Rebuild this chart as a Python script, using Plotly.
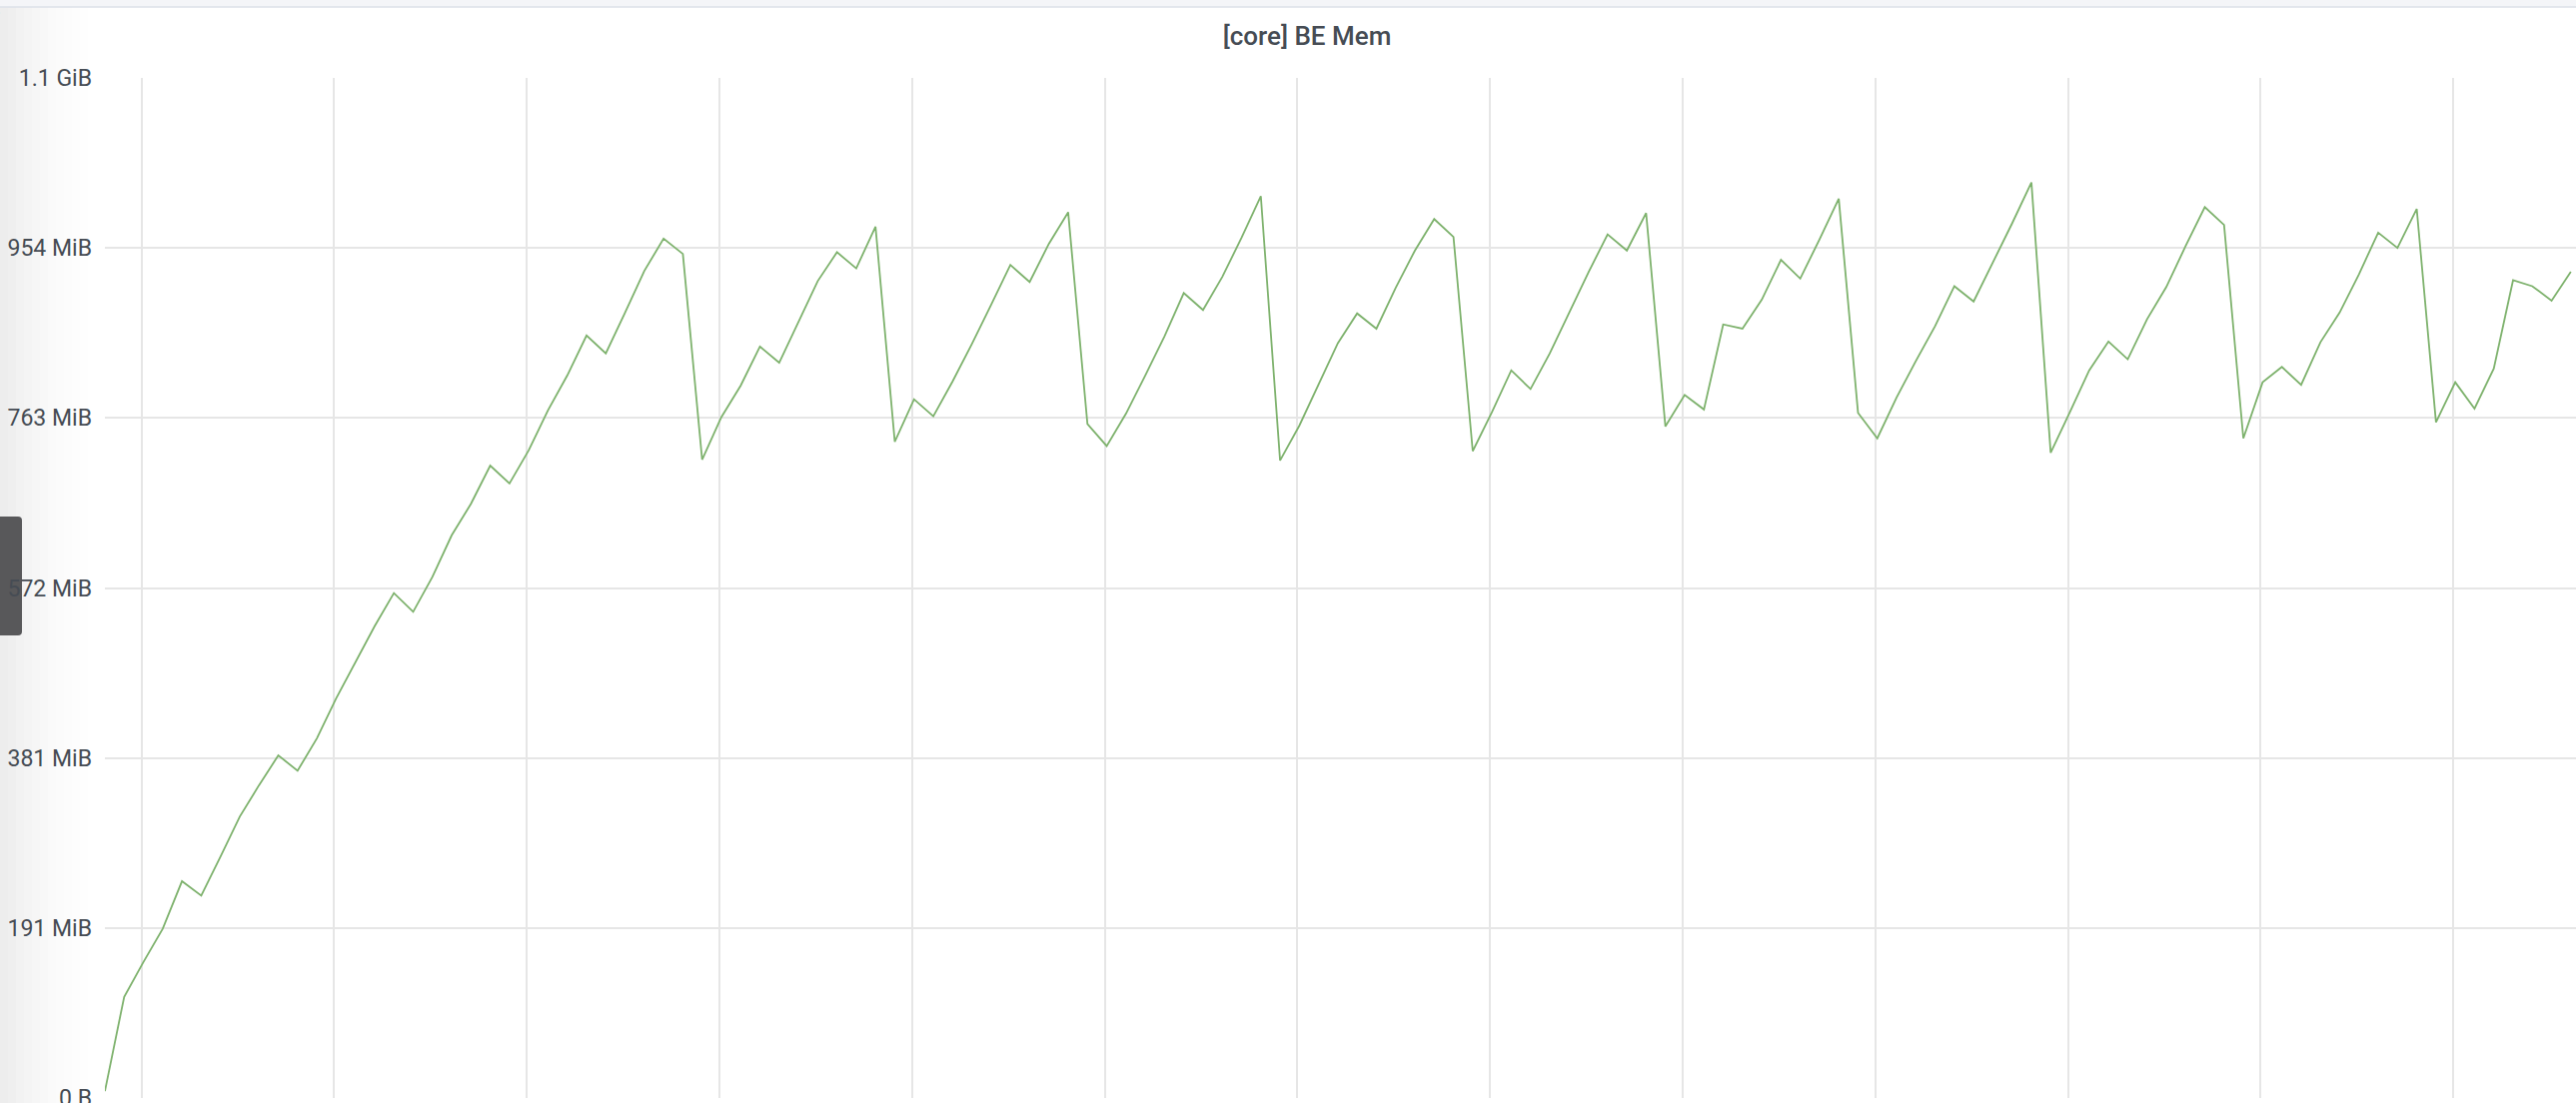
import plotly.graph_objects as go

# ---- data (decimal megabytes) ----
sample_index = list(range(129))
mem_mb = [
    8, 119, 160, 199, 255, 238, 284, 331, 368, 403, 385, 423, 470, 512, 555, 594, 572,
    613, 662, 699, 744, 723, 762, 809, 850, 897, 876, 924, 973, 1011, 993,
    751, 801, 838, 884, 865, 912, 961, 995, 976, 1025,
    772, 822, 802, 843, 887, 933, 980, 960, 1005, 1042,
    793, 767, 805, 850, 896, 947, 927, 966, 1012, 1061,
    750, 791, 839, 888, 923, 905, 953, 997, 1034, 1013,
    761, 807, 856, 834, 876, 924, 971, 1016, 997, 1041,
    790, 827, 810, 910, 905, 939, 986, 964, 1010, 1058,
    806, 776, 824, 867, 908, 955, 937, 983, 1029, 1077,
    759, 807, 856, 890, 869, 916, 954, 1002, 1048, 1027,
    776, 842, 860, 839, 889, 924, 969, 1018, 1000, 1046,
    795, 842, 811, 858, 962, 955, 938, 972,
]
y_tickvals = [0, 200, 400, 600, 800, 1000, 1200]
y_ticktext = ["0 B", "191 MiB", "381 MiB", "572 MiB", "763 MiB", "954 MiB", "1.1 GiB"]
title_text = "[core] BE Mem"

W, H = 2578, 1104
L, R, T, B = 105, 0, 78, 5
PW, PH = W - L - R, H - T - B


def px(xp):
    return (xp - L) / PW


def py(yp):
    return (H - B - yp) / PH


fig = go.Figure()
fig.add_trace(go.Scatter(
    x=sample_index, y=mem_mb, mode="lines",
    line=dict(color="#7eb26d", width=1.8),
    hoverinfo="skip", showlegend=False,
))

shapes = []
# soft left gradient
grad = ["#ededed", "#efefef", "#f2f2f2", "#f4f4f4", "#f6f6f6", "#f8f8f8",
        "#fafafa", "#fbfbfb", "#fcfcfc", "#fdfdfd", "#fefefe"]
step = 8
for i, c in enumerate(grad):
    shapes.append(dict(type="rect", xref="paper", yref="paper",
                       x0=px(i * step), x1=px((i + 1) * step), y0=py(H + 5), y1=py(0),
                       fillcolor=c, line=dict(width=0), layer="below"))
# top band
shapes.append(dict(type="rect", xref="paper", yref="paper",
                   x0=px(0), x1=px(W), y0=py(7), y1=py(-2),
                   fillcolor="#f4f5f8", line=dict(width=0), layer="below"))
shapes.append(dict(type="line", xref="paper", yref="paper",
                   x0=px(0), x1=px(W), y0=py(7), y1=py(7),
                   line=dict(color="#dde1e8", width=1.5), layer="below"))
# dark side handle
x0, x1, y0, y1 = px(-4), px(22), py(517), py(636)
rx, ry = 4 / PW, 4 / PH
path = (f"M {x0},{y0} L {x1 - rx},{y0} Q {x1},{y0} {x1},{y0 - ry} "
        f"L {x1},{y1 + ry} Q {x1},{y1} {x1 - rx},{y1} L {x0},{y1} Z")
shapes.append(dict(type="path", xref="paper", yref="paper", path=path,
                   fillcolor="#58585a", line=dict(width=0), layer="below"))

fig.update_layout(
    width=W, height=H,
    margin=dict(l=L, r=R, t=T, b=B, autoexpand=False),
    paper_bgcolor="#ffffff", plot_bgcolor="#ffffff",
    font=dict(family="Roboto, Inter, sans-serif", color="#464c54"),
    title=dict(text=title_text, x=1308 / W, xref="container", xanchor="center",
               y=1 - 36 / H, yref="container", yanchor="middle",
               font=dict(size=26, weight=500, color="#464c54", family="Roboto")),
    shapes=shapes,
    showlegend=False,
    annotations=[dict(text="i", xref="paper", yref="paper", x=px(3), y=py(20),
                      xanchor="right", yanchor="middle", showarrow=False,
                      font=dict(size=20, color="#464c54"))],
)
fig.update_xaxes(
    range=[0, (W - L) / 19.28], showticklabels=False, ticks="",
    tick0=1.893, dtick=10, showgrid=True, gridcolor="#e6e6e6", gridwidth=1.5,
    zeroline=False, showline=False, fixedrange=True,
)
fig.update_yaxes(
    range=[0, 1200], tickvals=y_tickvals, ticktext=y_ticktext,
    showgrid=True, gridcolor="#e6e6e6", gridwidth=1.5, zeroline=False,
    showline=False, ticks="", ticklabelstandoff=12, ticklabeloverflow="allow",
    tickfont=dict(size=23, color="#464c54", family="Roboto"),
)

fig.write_html(
    "out.html",
    config={"displayModeBar": False},
    post_script="document.body.style.margin='0px';document.body.style.overflow='hidden';",
)
